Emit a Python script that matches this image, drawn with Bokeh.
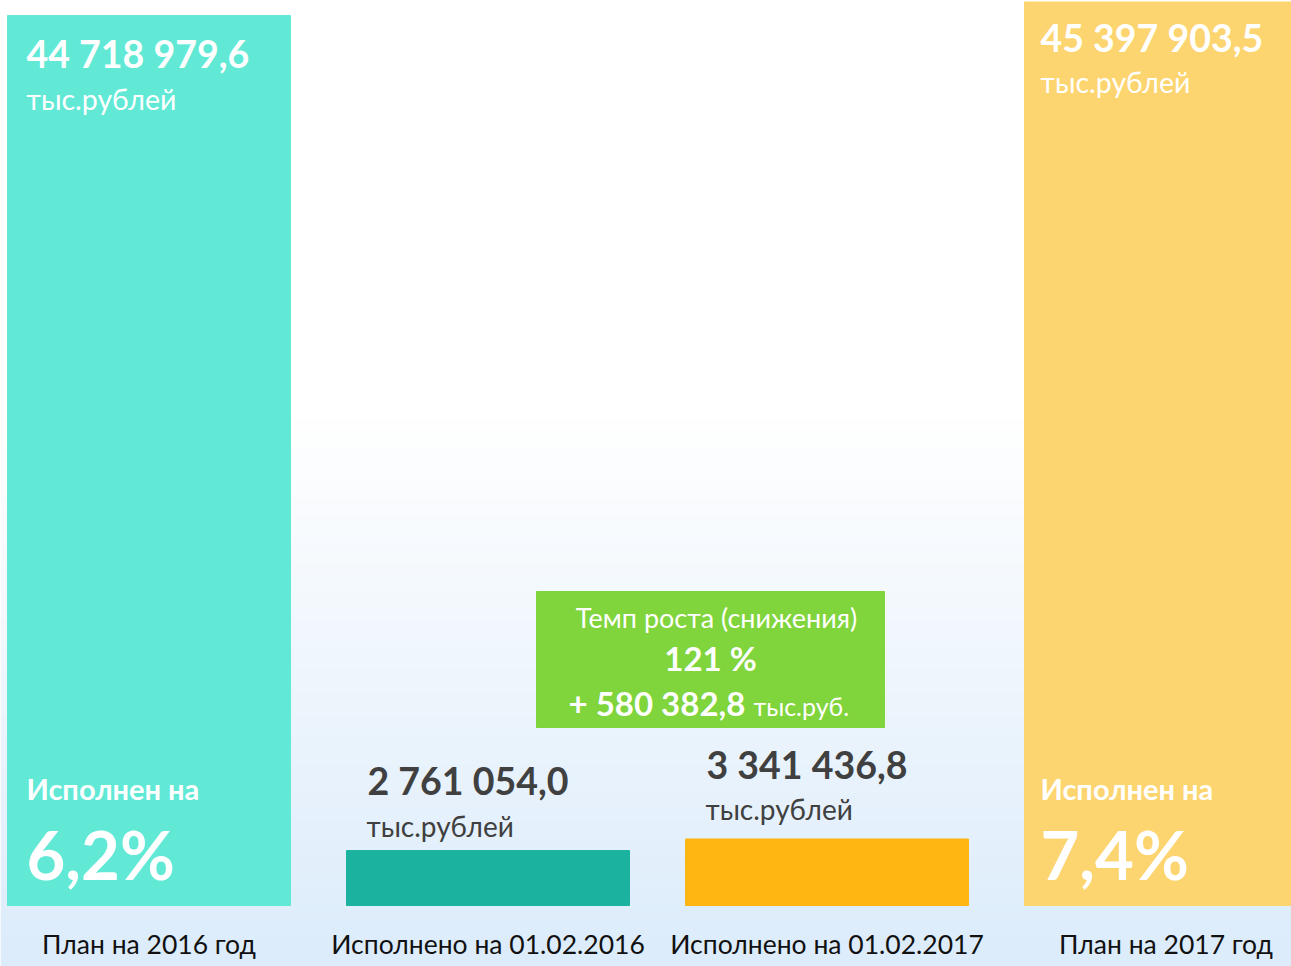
import numpy as np
from bokeh.plotting import figure
from bokeh.models import Range1d, ColumnDataSource
from bokeh.core.properties import value
from bokeh.embed import file_html
from bokeh.resources import INLINE

# ---- data ----
categories = ["План на 2016 год", "Исполнено на 01.02.2016",
              "Исполнено на 01.02.2017", "План на 2017 год"]
values = [44718979.6, 2761054.0, 3341436.8, 45397903.5]
value_labels = ["44 718 979,6", "2 761 054,0", "3 341 436,8", "45 397 903,5"]
unit_label = "тыс.рублей"
exec_label = "Исполнен на"
exec_pct = ["6,2%", "7,4%"]
growth_title = "Темп роста (снижения)"
growth_pct = "121 %"
growth_abs = "+ 580 382,8"
growth_unit = "тыс.руб."
colors = ["#61E9D6", "#1BB39F", "#FFB612", "#FDD570"]
box_color = "#80D43C"

FONT = "Lato"
W, H = 1291, 966
step = 339.0
bar_w = 283.0 / step
ppv = 890.0 / values[0]

xs = list(range(len(values)))
x_start = -148.5 / step
p = figure(width=W, height=H, x_range=Range1d(x_start, x_start + W / step),
           y_range=Range1d(-61 / ppv, 905 / ppv), min_border=0,
           toolbar_location=None, output_backend="svg")
p.axis.visible = False
p.grid.visible = False
p.outline_line_color = None
p.background_fill_color = "white"
p.border_fill_color = "white"

# background gradient
N = 240
img = np.zeros((N, 1), dtype=np.uint32)
view = img.view(dtype=np.uint8).reshape((N, 1, 4))
for i in range(N):
    py = H - (i + 0.5) * H / N  # screen px from top
    f = min(max((py - 420) / (H - 420), 0), 1)
    r = 255 + (220 - 255) * f
    g = 255 + (236 - 255) * f
    b = 255 + (251 - 255) * f
    view[i, 0] = [int(r), int(g), int(b), 255]
p.image_rgba(image=[img], x=x_start, y=-61 / ppv, dw=W / step, dh=H / ppv)

# bars
src = ColumnDataSource(dict(x=xs, top=values, color=colors, cat=categories,
                            lab=value_labels,
                            left=[x - bar_w / 2 for x in xs]))
p.vbar(x="x", top="top", bottom=0, width=bar_w, color="color", source=src)

# category labels
p.text(x="x", y=0, text="cat", source=src, text_align="center",
       text_baseline="middle", y_offset=38, text_font=value(FONT),
       text_font_size="26.5px", text_color="#111111")

# tall bars: labels inside (white)
big = [0, 3]
bsrc = ColumnDataSource(dict(left=[xs[i] - bar_w / 2 for i in big],
                             top=[values[i] for i in big],
                             lab=[value_labels[i] for i in big],
                             unit=[unit_label] * 2, ex=[exec_label] * 2,
                             pct=exec_pct,
                             o1=[38, 36], o2=[83, 80], xo=[19, 16]))
p.text(x="left", y="top", text="lab", source=bsrc, x_offset="xo", y_offset="o1",
       text_baseline="middle", text_font=value(FONT), text_font_style="bold",
       text_font_size="37.5px", text_color="white")
p.text(x="left", y="top", text="unit", source=bsrc, x_offset="xo", y_offset="o2",
       text_baseline="middle", text_font=value(FONT),
       text_font_size="28.5px", text_color="white")
p.text(x="left", y=0, text="ex", source=bsrc, x_offset="xo", y_offset=-117,
       text_baseline="middle", text_font=value(FONT), text_font_style="bold",
       text_font_size="29px", text_color="white")
p.text(x="left", y=0, text="pct", source=bsrc, x_offset="xo", y_offset=-52,
       text_baseline="middle", text_font=value(FONT), text_font_style="bold",
       text_font_size="67px", text_color="white")

# small bars: labels above (dark)
sm = [1, 2]
ssrc = ColumnDataSource(dict(left=[xs[i] - bar_w / 2 for i in sm],
                             top=[values[i] for i in sm],
                             lab=[value_labels[i] for i in sm],
                             unit=[unit_label] * 2,
                             o1=[-70, -74], o2=[-25, -30]))
p.text(x="left", y="top", text="lab", source=ssrc, x_offset=21, y_offset="o1",
       text_baseline="middle", text_font=value(FONT), text_font_style="bold",
       text_font_size="37.5px", text_color="#404040")
p.text(x="left", y="top", text="unit", source=ssrc, x_offset=20, y_offset="o2",
       text_baseline="middle", text_font=value(FONT),
       text_font_size="28px", text_color="#404040")

# growth box
bl = xs[1] + (536 - 487.5) / step
br = xs[2] + (884 - 826.5) / step
bt = (905 - 591) / ppv
bb = (905 - 727) / ppv
p.quad(left=[bl], right=[br], top=[bt], bottom=[bb], color=box_color)
cx = (bl + br) / 2
p.text(x=[cx], y=[bt], text=[growth_title], x_offset=6, y_offset=26,
       text_align="center", text_baseline="middle", text_font=value(FONT),
       text_font_size="27px", text_color="white")
p.text(x=[cx], y=[bt], text=[growth_pct], y_offset=66,
       text_align="center", text_baseline="middle", text_font=value(FONT),
       text_font_style="bold", text_font_size="33px", text_color="white")
p.text(x=[cx], y=[bt], text=[growth_abs], x_offset=-142, y_offset=111,
       text_align="left", text_baseline="middle", text_font=value(FONT),
       text_font_style="bold", text_font_size="33px", text_color="white")
p.text(x=[cx], y=[bt], text=[growth_unit], x_offset=43, y_offset=114,
       text_align="left", text_baseline="middle", text_font=value(FONT),
       text_font_size="25px", text_color="white")

open("out.html", "w").write(file_html(p, INLINE))
